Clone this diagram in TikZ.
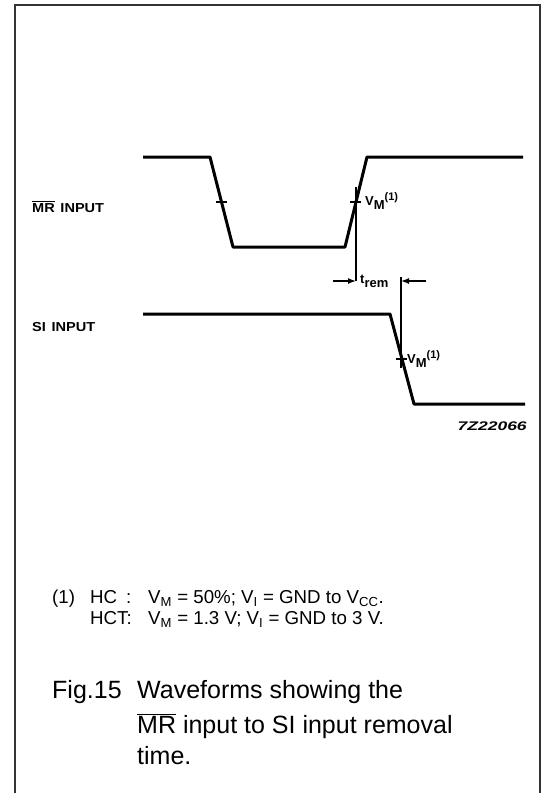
\documentclass[tikz,border=0pt]{standalone}
\usepackage{fontspec}
\setmainfont{Liberation Sans}
\usetikzlibrary{arrows.meta}
\newcommand{\ovl}[1]{\ensuremath{\overline{\mbox{#1}}}}
\begin{document}
\begin{tikzpicture}[x=1pt,y=-1pt,
    wave/.style={line width=3pt, line join=round},
    tickmark/.style={line width=2pt},
    refline/.style={line width=1.4pt},
    remarrow/.style={-{Latex[length=8pt,width=6pt]}, line width=1.4pt},
    lbl/.style={font=\fontsize{13}{15}\selectfont\bfseries, anchor=base west, inner sep=0pt},
    note/.style={font=\fontsize{18.7}{21}\selectfont, anchor=base west, inner sep=0pt},
    captext/.style={font=\fontsize{25}{30}\selectfont, anchor=base west, inner sep=0pt}]
    \useasboundingbox (0,0) rectangle (542,793);
    % frame, open at the bottom
    \draw[line width=1.5pt, black!80] (15,793) -- (15,5) -- (540,5) -- (540,793);
    % MR input
    \draw[wave] (143,157) -- (210,157) -- (233,247) -- (345,247) -- (367,157) -- (523,157);
    \draw[tickmark] (216,202) -- (227,202);
    \draw[tickmark] (350,202) -- (361,202);
    \node[lbl, xscale=1.12] (mrlbl) at (32,212) {\ovl{MR}\hspace{5pt}INPUT};
    \node[lbl] (vmmr) at (365,205) {V\raisebox{-4pt}{M}\raisebox{5pt}{\fontsize{11}{11}\selectfont (1)}};
    % SI input
    \draw[wave] (143,314) -- (390,314) -- (414,404) -- (525,404);
    \draw[tickmark] (396,359) -- (407,359);
    \node[lbl, xscale=1.12] (silbl) at (32,331) {SI\hspace{5pt}INPUT};
    \node[lbl] (vmsi) at (407,363) {V\raisebox{-4pt}{M}\raisebox{5pt}{\fontsize{11}{11}\selectfont (1)}};
    % removal time
    \coordinate (mrref) at (356,187);
    \coordinate (siref) at (401,368);
    \coordinate (mrfoot) at (356,281);
    \coordinate (sifoot) at (401,277);
    \draw[refline] (mrref) -- (mrfoot);
    \draw[refline] (sifoot) -- (siref);
    \draw[remarrow] (333,281) -- (mrfoot |- 0,281);
    \draw[remarrow] (426,281) -- (sifoot |- 0,281);
    \node[lbl, font=\fontsize{13}{14}\selectfont\bfseries] (trem) at (360,283) {t\raisebox{-4pt}{rem}};
    \node[lbl, anchor=base east, xscale=1.4, font=\fontsize{12.5}{14}\selectfont\bfseries\itshape] (code) at (527,430) {7Z22066};
    % note
    \node[note] (n1a) at (52,603) {(1)};
    \node[note] (n1b) at (90,603) {HC};
    \node[note] (n1c) at (126,603) {:};
    \node[note] (n1d) at (148,603) {V\textsubscript{M} = 50\%; V\textsubscript{I} = GND to V\textsubscript{CC}.};
    \node[note] (n2b) at (90,624) {HCT:};
    \node[note] (n2d) at (148,624) {V\textsubscript{M} = 1.3 V; V\textsubscript{I} = GND to 3 V.};
    % caption
    \node[captext] (fig) at (52,698) {Fig.15};
    \node[captext] (cap1) at (137,698) {Waveforms showing the};
    \node[captext] (cap2) at (137,733) {\ovl{MR} input to SI input removal};
    \node[captext] (cap3) at (137,764) {time.};
\end{tikzpicture}
\end{document}
